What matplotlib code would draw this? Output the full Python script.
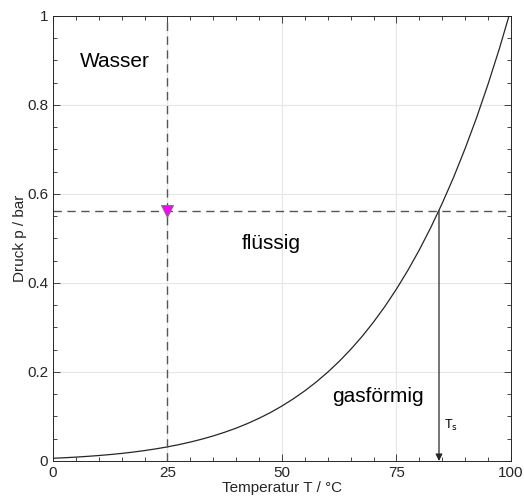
import numpy as np
import matplotlib.pyplot as plt

# vapour pressure curve of water
temp = [0, 2.5, 5, 7.5, 10, 12.5, 15, 17.5, 20, 22.5, 25, 27.5, 30, 32.5, 35, 37.5,
        40, 42.5, 45, 47.5, 50, 52.5, 55, 57.5, 60, 62.5, 65, 67.5, 70, 72.5, 75,
        77.5, 80, 82.5, 85, 87.5, 90, 92.5, 95, 97.5, 100]
druck = [0.0061, 0.0073, 0.0087, 0.0104, 0.0123, 0.0145, 0.0170, 0.0200, 0.0234,
         0.0273, 0.0317, 0.0368, 0.0425, 0.0490, 0.0563, 0.0646, 0.0738, 0.0842,
         0.0959, 0.1088, 0.1235, 0.1397, 0.1576, 0.1775, 0.1995, 0.2237, 0.2504,
         0.2797, 0.3120, 0.3473, 0.3860, 0.4282, 0.4741, 0.5243, 0.5787, 0.6375,
         0.7018, 0.7710, 0.8461, 0.9268, 1.0142]

t_wasser = 25
p_wasser = 0.562
t_siede = 84.3

plt.rcParams['font.family'] = ['Liberation Sans', 'DejaVu Sans']

fig = plt.figure(figsize=(5.24, 4.98), dpi=100)
ax = fig.add_axes([0.101, 0.0743, 0.874, 0.894])

ax.grid(True, color='#e6e6e6', linewidth=0.8)
ax.set_axisbelow(True)

ax.plot(temp, druck, color='#262626', linewidth=0.9)
ax.axvline(t_wasser, color='#555555', linestyle=(0, (6, 4)), linewidth=1)
ax.axhline(p_wasser, color='#555555', linestyle=(0, (6, 4)), linewidth=1)
ax.plot([t_wasser], [p_wasser], marker='v', markersize=8, color='#ff00ff',
        markeredgecolor='#777777', markeredgewidth=0.7, zorder=5)
ax.annotate('', xy=(t_siede, 0.0), xytext=(t_siede, p_wasser),
            arrowprops=dict(arrowstyle='-|>', color='#262626', lw=0.9,
                            mutation_scale=10, shrinkA=0, shrinkB=0))

ax.text(5.8, 0.897, 'Wasser', fontsize=15, va='center')
ax.text(41.3, 0.488, 'flüssig', fontsize=15, va='center')
ax.text(61.0, 0.144, 'gasförmig', fontsize=15, va='center')
ax.text(85.5, 0.08, r'T$_\mathrm{s}$', fontsize=9, va='center')

ax.set_xlim(0, 100)
ax.set_ylim(0, 1)
ax.set_xticks([0, 25, 50, 75, 100])
ax.set_yticks([0, 0.2, 0.4, 0.6, 0.8, 1])
ax.set_yticklabels(['0', '0.2', '0.4', '0.6', '0.8', '1'])
ax.set_xticks(np.arange(0, 101, 5), minor=True)
ax.set_yticks(np.arange(0, 1.01, 0.05), minor=True)
ax.tick_params(which='both', direction='in', top=True, right=True, colors='#262626',
               labelsize=11, width=0.6)
ax.tick_params(which='major', length=5)
ax.tick_params(which='minor', length=3)
for s in ax.spines.values():
    s.set_color('#262626')
    s.set_linewidth(0.7)

ax.set_xlabel('Temperatur T / °C', fontsize=11, color='#262626', labelpad=1)
ax.set_ylabel('Druck p / bar', fontsize=11, color='#262626', labelpad=0)

fig.savefig('out.png', dpi=100)
